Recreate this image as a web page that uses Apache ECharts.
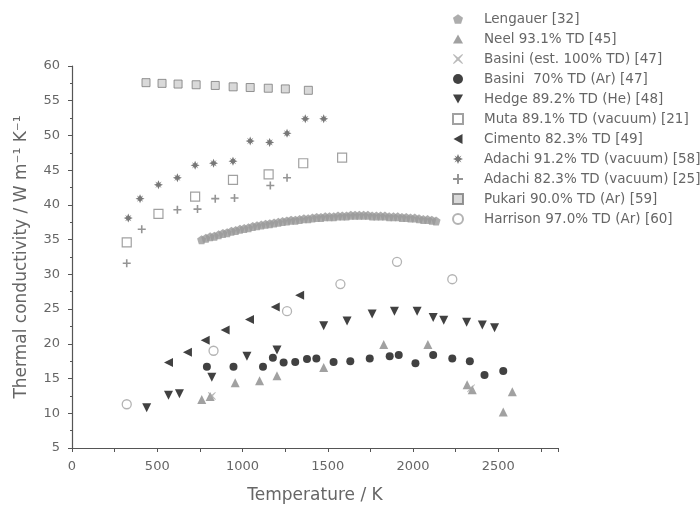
<!DOCTYPE html>
<html>
<head>
<meta charset="utf-8">
<script src="https://cdn.jsdelivr.net/npm/echarts@6/dist/echarts.min.js"></script>
<style>
  html, body { margin: 0; padding: 0; background: #fff; }
  #chart { width: 700px; height: 509px; }
</style>
</head>
<body>
<div id="chart"></div>
<script>
// Thermal conductivity of UC / UN type samples vs temperature, several literature sources

const xTicks = [0, 500, 1000, 1500, 2000, 2500];

// Lengauer [32] – dense measured curve
const lengauerT = [760, 785, 810, 835, 860, 885, 910, 935, 960, 985, 1010, 1035, 1060, 1085, 1110, 1135,
  1160, 1185, 1210, 1235, 1260, 1285, 1310, 1335, 1360, 1385, 1410, 1435, 1460, 1485, 1510, 1535, 1560,
  1585, 1610, 1635, 1660, 1685, 1710, 1735, 1760, 1785, 1810, 1835, 1860, 1885, 1910, 1935, 1960, 1985,
  2010, 2035, 2060, 2085, 2110, 2135];
const lengauerK = [35.0, 35.2, 35.4, 35.5, 35.7, 35.9, 36.0, 36.2, 36.3, 36.5, 36.6, 36.7, 36.9, 37.0, 37.1, 37.2,
  37.3, 37.4, 37.5, 37.6, 37.7, 37.8, 37.8, 37.9, 38.0, 38.0, 38.1, 38.2, 38.2, 38.3, 38.3, 38.3, 38.4,
  38.4, 38.4, 38.5, 38.5, 38.5, 38.5, 38.5, 38.4, 38.4, 38.4, 38.4, 38.3, 38.3, 38.3, 38.2, 38.2, 38.1,
  38.1, 38.0, 37.9, 37.9, 37.8, 37.7];

// Neel 93.1% TD [45]
const neelT = [761, 810, 957, 1100, 1202, 1476, 1828, 2087, 2317, 2347, 2529, 2582];
const neelK = [12.0, 12.4, 14.4, 14.7, 15.4, 16.6, 19.9, 19.9, 14.1, 13.4, 10.2, 13.1];

// Basini (est. 100% TD) [47]
const basiniEstT = [820, 2340];
const basiniEstK = [12.5, 13.6];

// Basini 70% TD (Ar) [47]
const basini70T = [791, 947, 1120, 1178, 1241, 1309, 1378, 1433, 1534, 1632, 1746, 1863, 1916, 2014, 2118, 2230, 2333, 2419, 2529];
const basini70K = [16.7, 16.7, 16.7, 18.0, 17.3, 17.4, 17.8, 17.9, 17.4, 17.5, 17.9, 18.2, 18.4, 17.2, 18.4, 17.9, 17.5, 15.5, 16.1];

// Hedge 89.2% TD (He) [48]
const hedgeT = [438, 566, 630, 820, 1026, 1202, 1476, 1613, 1760, 1891, 2024, 2118, 2180, 2314, 2406, 2478];
const hedgeK = [10.8, 12.6, 12.8, 15.2, 18.2, 19.1, 22.6, 23.3, 24.3, 24.7, 24.7, 23.8, 23.4, 23.1, 22.7, 22.3];

// Muta 89.1% TD (vacuum) [21]
const mutaT = [321, 507, 722, 944, 1153, 1356, 1584];
const mutaK = [34.6, 38.7, 41.2, 43.6, 44.4, 46.0, 46.8];

// Cimento 82.3% TD [49]
const cimentoT = [566, 677, 781, 898, 1041, 1192, 1335];
const cimentoK = [17.3, 18.8, 20.5, 22.0, 23.5, 25.3, 27.0];

// Adachi 91.2% TD (vacuum) [58]
const adachi91T = [330, 399, 507, 618, 722, 830, 944, 1045, 1159, 1261, 1368, 1476];
const adachi91K = [38.1, 40.9, 42.9, 43.9, 45.7, 46.0, 46.3, 49.2, 49.0, 50.3, 52.4, 52.4];

// Adachi 82.3% TD (vacuum) [25]
const adachi82T = [321, 409, 618, 736, 840, 953, 1163, 1261];
const adachi82K = [31.6, 36.5, 39.3, 39.4, 40.9, 41.0, 42.8, 43.9];

// Pukari 90.0% TD (Ar) [59]
const pukariT = [434, 528, 622, 728, 840, 945, 1045, 1151, 1251, 1386];
const pukariK = [57.6, 57.5, 57.4, 57.3, 57.2, 57.0, 56.9, 56.8, 56.7, 56.5];

// Harrison 97.0% TD (Ar) [60]
const harrisonT = [321, 830, 1261, 1574, 1906, 2230];
const harrisonK = [11.3, 19.0, 24.7, 28.6, 31.8, 29.3];

const pair = (xs, ys) => xs.map((x, i) => [x, ys[i]]);

// marker outlines (drawn as filled paths, orientation built in so legend icons match)
const plusPath = 'path://M-1,-5 L1,-5 L1,-1 L5,-1 L5,1 L1,1 L1,5 L-1,5 L-1,1 L-5,1 L-5,-1 L-1,-1 Z';
const crossPath = 'path://M-4.3,-5 L0,-1.4 L4.3,-5 L5,-4.3 L1.4,0 L5,4.3 L4.3,5 L0,1.4 L-4.3,5 L-5,4.3 L-1.4,0 L-5,-4.3 Z';
const starPath = 'path://M0,-10 L2.5,-4 L7,-7 L4,-2.5 L10,0 L4,2.5 L7,7 L2.5,4 L0,10 L-2.5,4 L-7,7 L-4,2.5 L-10,0 L-4,-2.5 L-7,-7 L-2.5,-4 Z';
const pentaPath = 'path://M0,-10 L9.5,-3.1 L5.9,8.1 L-5.9,8.1 L-9.5,-3.1 Z';
const triUp = 'path://M0,-5 L5,4 L-5,4 Z';
const triDown = 'path://M-5,-4 L5,-4 L0,5 Z';
const triLeft = 'path://M-5,0 L4,-5 L4,5 Z';

const seriesDefs = [
  { name: 'Lengauer [32]', data: pair(lengauerT, lengauerK), symbol: pentaPath, symbolSize: 9, itemStyle: { color: '#999' } },
  { name: 'Neel 93.1% TD [45]', data: pair(neelT, neelK), symbol: triUp, symbolSize: 9, itemStyle: { color: '#8a8a8a' } },
  { name: 'Basini (est. 100% TD) [47]', data: pair(basiniEstT, basiniEstK), symbol: crossPath, symbolSize: 8, itemStyle: { color: '#a8a8a8' } },
  { name: 'Basini  70% TD (Ar) [47]', data: pair(basini70T, basini70K), symbol: 'circle', symbolSize: 8, itemStyle: { color: '#111' } },
  { name: 'Hedge 89.2% TD (He) [48]', data: pair(hedgeT, hedgeK), symbol: triDown, symbolSize: 9, itemStyle: { color: '#111' } },
  { name: 'Muta 89.1% TD (vacuum) [21]', data: pair(mutaT, mutaK), symbol: 'rect', symbolSize: 9, itemStyle: { color: '#fff', borderColor: '#8a8a8a', borderWidth: 1.2 } },
  { name: 'Cimento 82.3% TD [49]', data: pair(cimentoT, cimentoK), symbol: triLeft, symbolSize: 9, itemStyle: { color: '#111' } },
  { name: 'Adachi 91.2% TD (vacuum) [58]', data: pair(adachi91T, adachi91K), symbol: starPath, symbolSize: 9, itemStyle: { color: '#555' } },
  { name: 'Adachi 82.3% TD (vacuum) [25]', data: pair(adachi82T, adachi82K), symbol: plusPath, symbolSize: 8, itemStyle: { color: '#7a7a7a' } },
  { name: 'Pukari 90.0% TD (Ar) [59]', data: pair(pukariT, pukariK), symbol: 'rect', symbolSize: 8, itemStyle: { color: '#cfcfcf', borderColor: '#7a7a7a', borderWidth: 1 } },
  { name: 'Harrison 97.0% TD (Ar) [60]', data: pair(harrisonT, harrisonK), symbol: 'circle', symbolSize: 9, itemStyle: { color: '#fff', borderColor: '#a0a0a0', borderWidth: 1.3 } }
];

const axisGray = '#555';
const textGray = '#666';
const font = 'DejaVu Sans, sans-serif';

const chart = echarts.init(document.getElementById('chart'), null, { renderer: 'canvas' });
chart.setOption({
  animation: false,
  backgroundColor: '#fff',
  grid: { left: 72, top: 66, width: 486, height: 383, containLabel: false },
  legend: {
    orient: 'vertical',
    left: 447,
    top: 7,
    itemWidth: 10,
    itemHeight: 10,
    itemGap: 6,
    textStyle: { color: textGray, fontSize: 13.5, fontFamily: font, padding: [0, 0, 0, 16] },
    data: seriesDefs.map(s => s.name)
  },
  xAxis: {
    type: 'value',
    min: 0,
    max: 2850,
    interval: 250,
    name: 'Temperature / K',
    nameLocation: 'middle',
    nameGap: 39,
    nameTextStyle: { color: textGray, fontSize: 17, fontFamily: font },
    axisLine: { show: true, onZero: false, lineStyle: { color: axisGray, width: 1.2 } },
    axisTick: { show: true, inside: false, length: 4, lineStyle: { color: axisGray } },
    splitLine: { show: false },
    axisLabel: {
      color: textGray, fontSize: 13, fontFamily: font, margin: 12,
      formatter: v => (xTicks.indexOf(v) >= 0 ? String(v) : '')
    }
  },
  yAxis: {
    type: 'value',
    min: 5,
    max: 60,
    interval: 5,
    name: 'Thermal conductivity / W m\u207B\u00B9 K\u207B\u00B9',
    nameLocation: 'middle',
    nameGap: 42,
    nameTextStyle: { color: textGray, fontSize: 17, fontFamily: font },
    axisLine: { show: true, onZero: false, lineStyle: { color: axisGray, width: 1.2 } },
    axisTick: { show: true, inside: false, length: 4, lineStyle: { color: axisGray } },
    minorTick: { show: true, splitNumber: 2, length: 2, lineStyle: { color: axisGray } },
    splitLine: { show: false },
    axisLabel: { color: textGray, fontSize: 13, fontFamily: font, margin: 12 }
  },
  series: seriesDefs.map(s => Object.assign({ type: 'scatter', emphasis: { disabled: true } }, s))
});
</script>
</body>
</html>
